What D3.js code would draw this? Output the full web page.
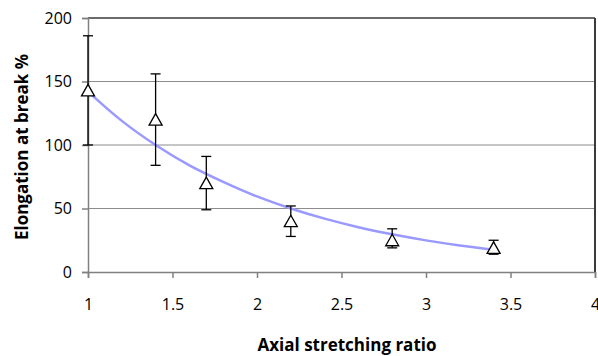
<!DOCTYPE html>
<html>
<head>
<meta charset="utf-8">
<script src="https://cdn.jsdelivr.net/npm/d3@7"></script>
<style>
  body { margin: 0; background: #fff; }
  svg { display: block; }
  text { font-family: "Open Sans", sans-serif; fill: #000; }
</style>
</head>
<body>
<svg id="chart"></svg>
<script>
// measured points: stretching ratio, elongation %, error bar low/high
const ratios = [1, 1.4, 1.7, 2.2, 2.8, 3.4];
const elongation = [143, 120, 70, 40, 25, 19];
const errLow = [100, 84, 49, 28, 19, 14];
const errHigh = [186, 156, 91, 52, 34, 25];

// trend curve read at regular steps
const trendX = [1, 1.2, 1.4, 1.6, 1.8, 2.0, 2.2, 2.4, 2.6, 2.8, 3.0, 3.2, 3.4];
const trendY = [142, 119, 100, 84, 71, 59.5, 50, 42, 35.3, 29.7, 24.9, 20.9, 17.6];

const xTicks = [1, 1.5, 2, 2.5, 3, 3.5, 4];
const yTicks = [0, 50, 100, 150, 200];

var svgWidth = 598, svgHeight = 356;
var plotL = 88, plotR = 595, plotT = 18, plotB = 272;

var svg = d3.select('#chart')
	.attr("width", svgWidth)
	.attr("height", svgHeight);

var x = d3.scaleLinear().domain([1, 4]).range([plotL, plotR]);
var y = d3.scaleLinear().domain([0, 200]).range([plotB, plotT]);

// horizontal gridlines
svg.append("g")
	.selectAll("line")
	.data(yTicks.filter(function(d) { return d > 0 && d < 200; }))
	.enter()
	.append("line")
	.attr("x1", plotL).attr("x2", plotR)
	.attr("y1", function(d) { return y(d); })
	.attr("y2", function(d) { return y(d); })
	.attr("stroke", "#8c8c8c")
	.attr("stroke-width", 1);

// frame top and right
svg.append("line")
	.attr("x1", plotL).attr("x2", plotR).attr("y1", plotT).attr("y2", plotT)
	.attr("stroke", "#3a3a3a").attr("stroke-width", 1.5);
svg.append("line")
	.attr("x1", plotR).attr("x2", plotR).attr("y1", plotT).attr("y2", plotB)
	.attr("stroke", "#3a3a3a").attr("stroke-width", 2);

// axes
var xAxis = svg.append("g")
	.attr("transform", "translate(0," + plotB + ")")
	.call(d3.axisBottom(x).tickValues(xTicks).tickFormat(d3.format("")).tickSize(6).tickPadding(21));
var yAxis = svg.append("g")
	.attr("transform", "translate(" + plotL + ",0)")
	.call(d3.axisLeft(y).tickValues(yTicks).tickSize(6).tickPadding(10));

[xAxis, yAxis].forEach(function(ax) {
	ax.attr("font-size", 16).attr("font-family", "Open Sans");
	ax.select(".domain").attr("stroke", "#808080").attr("stroke-width", 1.5);
	ax.selectAll(".tick line").attr("stroke", "#808080").attr("stroke-width", 1.5);
	ax.selectAll("text").attr("fill", "#000");
});

// trend curve
var line = d3.line()
	.x(function(d, i) { return x(trendX[i]); })
	.y(function(d) { return y(d); })
	.curve(d3.curveCatmullRom);
svg.append("path")
	.datum(trendY)
	.attr("d", line)
	.attr("fill", "none")
	.attr("stroke", "#9999ff")
	.attr("stroke-width", 2.5);

// error bars
var bars = svg.append("g").selectAll("g")
	.data(ratios)
	.enter()
	.append("g")
	.attr("stroke", "#000")
	.attr("stroke-width", 1.3);
bars.append("line")
	.attr("x1", function(d) { return x(d); })
	.attr("x2", function(d) { return x(d); })
	.attr("y1", function(d, i) { return y(errLow[i]); })
	.attr("y2", function(d, i) { return y(errHigh[i]); });
[errLow, errHigh].forEach(function(arr) {
	bars.append("line")
		.attr("x1", function(d) { return x(d) - 5; })
		.attr("x2", function(d) { return x(d) + 5; })
		.attr("y1", function(d, i) { return y(arr[i]); })
		.attr("y2", function(d, i) { return y(arr[i]); });
});

// open triangle markers
svg.append("g").selectAll("path")
	.data(ratios)
	.enter()
	.append("path")
	.attr("d", "M0,-6L6.5,5.5L-6.5,5.5Z")
	.attr("transform", function(d, i) {
		return "translate(" + x(d) + "," + y(elongation[i]) + ")";
	})
	.attr("fill", "#fff")
	.attr("stroke", "#000")
	.attr("stroke-width", 1.3);

// axis titles
svg.append("text")
	.text("Axial stretching ratio")
	.attr("x", 347).attr("y", 351)
	.attr("text-anchor", "middle")
	.attr("font-size", 17)
	.attr("font-weight", "bold");
svg.append("text")
	.text("Elongation at break %")
	.attr("transform", "translate(28,147) rotate(-90)")
	.attr("text-anchor", "middle")
	.attr("font-size", 17)
	.attr("font-weight", "bold");
</script>
</body>
</html>
